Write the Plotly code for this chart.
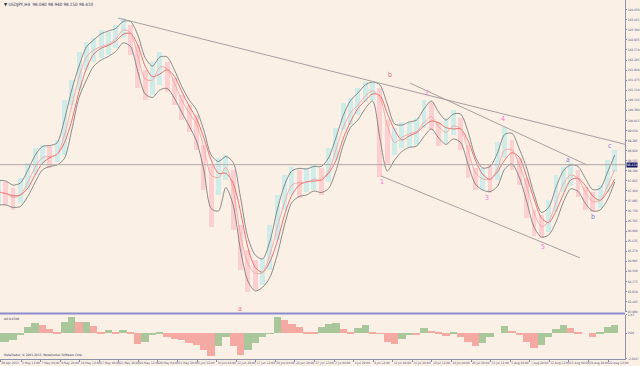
import plotly.graph_objects as go
import pandas as pd

# ---- data: USDJPY, one entry per trading day, 29 Apr 2013 .. 23 Aug 2013 ----
HIGH = [97.85, 97.78, 97.56, 97.93, 98.47, 99.02, 99.12, 99.09, 99.31, 100.76,
        101.48, 102.50, 102.86, 103.01, 103.30, 103.22, 103.48, 103.73, 103.48, 102.75,
        101.84, 102.13, 102.50, 102.13, 101.55, 100.94, 100.58, 100.21, 99.12, 98.40,
        98.65, 98.76, 98.22, 96.22, 95.32, 94.95, 95.03, 96.22, 97.31, 98.04,
        98.33, 98.22, 98.29, 98.40, 98.29, 99.02, 99.74, 100.65, 100.83, 101.19,
        101.41, 101.41, 101.19, 100.03, 99.74, 99.96, 99.96, 100.10, 100.76, 100.68,
        99.96, 100.10, 100.39, 100.10, 99.12, 98.29, 98.29, 98.40, 99.23, 99.78,
        99.31, 98.65, 97.93, 96.77, 96.59, 97.13, 98.04, 98.33, 98.47, 98.22,
        97.60, 97.42, 97.67, 98.58, 98.94]
LOW = [96.95, 96.95, 96.77, 97.02, 97.49, 98.04, 98.40, 98.29, 98.51, 98.76,
       100.58, 101.12, 101.84, 102.13, 102.28, 102.39, 102.64, 103.01, 102.39, 101.19,
       100.76, 100.94, 101.30, 101.05, 100.58, 100.03, 99.60, 98.94, 97.49, 96.15,
       97.31, 97.85, 96.04, 94.59, 93.79, 93.87, 94.05, 94.59, 95.68, 96.77,
       97.31, 97.20, 97.42, 97.49, 97.31, 97.78, 98.58, 99.67, 99.85, 100.21,
       100.68, 100.76, 97.96, 98.40, 98.76, 99.02, 99.05, 99.12, 99.74, 99.67,
       99.09, 99.20, 99.49, 98.94, 97.93, 97.49, 97.49, 97.38, 97.85, 98.65,
       98.22, 97.67, 96.48, 95.82, 95.75, 95.97, 96.69, 97.42, 97.64, 97.24,
       96.77, 96.69, 96.84, 97.42, 98.15]
CLOSE = [97.42, 97.31, 97.13, 97.49, 98.04, 98.58, 98.76, 98.65, 98.94, 100.03,
         101.05, 102.13, 102.50, 102.64, 102.75, 102.82, 103.11, 103.48, 102.93, 101.84,
         101.19, 101.77, 102.13, 101.66, 101.05, 100.47, 100.10, 99.67, 98.40, 97.67,
         98.22, 98.40, 96.59, 95.13, 94.52, 94.41, 94.59, 95.68, 96.59, 97.49,
         97.85, 97.67, 97.85, 97.93, 97.78, 98.58, 99.31, 100.21, 100.39, 100.76,
         101.05, 101.12, 100.58, 99.12, 99.31, 99.49, 99.56, 99.67, 100.21, 100.10,
         99.49, 99.67, 99.96, 99.49, 98.40, 97.85, 97.93, 97.85, 98.65, 99.23,
         98.65, 98.15, 97.13, 96.22, 96.11, 96.59, 97.49, 97.93, 98.15, 97.67,
         97.13, 97.02, 97.20, 98.04, 98.41]
AO = [-0.70, -0.70, -0.52, -0.13, 0.47, 0.78, 0.65, 0.31, 0.03, 0.91,
      1.30, 0.91, 0.91, 0.57, 0.13, 0.26, 0.05, 0.26, 0.03, -0.85,
      -0.65, -0.15, 0.05, -0.31, -0.47, -0.52, -0.73, -0.91, -1.30, -1.79,
      -1.00, -0.26, -1.00, -1.69, -1.30, -0.78, -0.31, -0.03, 1.25, 1.04,
      0.73, 0.47, 0.13, 0.03, 0.52, 0.70, 0.83, 0.31, 0.08, 0.39,
      0.62, 0.13, -0.05, -0.65, -0.86, -0.47, -0.13, -0.16, 0.39, 0.21,
      0.02, -0.21, 0.05, -0.31, -0.65, -0.99, -0.73, -0.31, 0.00, 0.57,
      0.21, -0.13, -0.65, -1.17, -0.91, -0.31, 0.31, 0.65, 0.39, 0.05,
      0.00, -0.26, 0.13, 0.52, 0.65]

# time axis tick labels (H4 bar index of each label)
DATE_LABELS = ["29 Apr 2013", "2 May 12:00", "7 May 04:00", "9 May 20:00", "14 May 12:00",
               "17 May 04:00", "21 May 20:00", "24 May 12:00", "29 May 04:00", "31 May 20:00",
               "5 Jun 12:00", "10 Jun 04:00", "12 Jun 20:00", "17 Jun 12:00", "20 Jun 04:00",
               "24 Jun 20:00", "27 Jun 12:00", "2 Jul 04:00", "4 Jul 20:00", "9 Jul 12:00",
               "12 Jul 04:00", "16 Jul 20:00", "19 Jul 12:00", "24 Jul 04:00", "26 Jul 20:00",
               "31 Jul 12:00", "5 Aug 04:00", "7 Aug 20:00", "12 Aug 12:00", "15 Aug 04:00",
               "19 Aug 20:00", "22 Aug 12:00"]
DATE_BARS = [4] + [21 + 16 * k for k in range(31)]

# trend lines drawn on the chart: (bar0, price0, bar1, price1)
TRENDLINES = [(100.3, 103.73, 514.9, 99.15),
              (339.1, 101.37, 483.8, 98.40),
              (315.4, 98.00, 478.1, 95.03)]
# wave labels
WAVE_TEXT = ["a", "b", "1", "2", "3", "4", "5", "a", "b", "c"]
WAVE_BAR = [200.1, 322.7, 316.2, 353.0, 402.1, 415.1, 447.9, 468.3, 488.7, 502.6]
WAVE_PRICE = [93.18, 101.66, 97.78, 101.01, 97.20, 100.07, 95.43, 98.58, 96.51, 99.09]
WAVE_COLOR = ["#F07080", "#D06A6A", "#FF70D0", "#FF70D0", "#FF70D0", "#FF70D0", "#FF70D0",
              "#7A7AD0", "#7A7AD0", "#7A7AD0"]

BARS_PER_DAY = 6
X = [d * BARS_PER_DAY + 2.5 for d in range(len(CLOSE))]

FONT = "Liberation Sans Narrow, DejaVu Sans Condensed, sans-serif"
BG = "#FAF0E6"
AXC = "#555577"
TF = 3.2

# derived indicator lines (moving averages of the typed price data)
s_close = pd.Series(CLOSE)
s_high = pd.Series(HIGH)
s_low = pd.Series(LOW)
ma_fast = s_close.rolling(2, min_periods=1).mean()
ma_mid = s_close.rolling(3, min_periods=1).mean()
ch_up = s_high.rolling(2, min_periods=1).mean()
ch_dn = s_low.rolling(2, min_periods=1).mean()

bar_colors = ["#9FE9EE" if (i == 0 or CLOSE[i] >= CLOSE[i - 1]) else "#FFA9B8"
              for i in range(len(CLOSE))]
ao_colors = ["#A9C79B" if (i == 0 or AO[i] >= AO[i - 1]) else "#F4AAA2"
             for i in range(len(AO))]

fig = go.Figure()
fig.add_trace(go.Bar(x=X, y=[h - l for h, l in zip(HIGH, LOW)], base=LOW, width=4,
                     marker=dict(color=bar_colors, line=dict(width=0)), opacity=0.45,
                     xaxis="x", yaxis="y", showlegend=False, hoverinfo="skip"))
for ser, col, w in [(ch_up, "#707070", 0.8), (ch_dn, "#707070", 0.8),
                    (ma_mid, "#E85050", 0.8), (ma_fast, "#F59A9A", 0.8)]:
    fig.add_trace(go.Scatter(x=X, y=ser, mode="lines",
                             line=dict(color=col, width=w, shape="spline", smoothing=0.8),
                             xaxis="x", yaxis="y", showlegend=False, hoverinfo="skip"))
fig.add_trace(go.Bar(x=X, y=AO, width=6, marker=dict(color=ao_colors, line=dict(width=0)),
                     xaxis="x2", yaxis="y2", showlegend=False, hoverinfo="skip"))

shapes = []
for b0, p0, b1, p1 in TRENDLINES:
    shapes.append(dict(type="line", xref="x", yref="y", x0=b0, y0=p0, x1=b1, y1=p1,
                       line=dict(color="#A8A0A0", width=1)))
shapes.append(dict(type="line", xref="paper", yref="y", x0=0, x1=1, y0=CLOSE[-1], y1=CLOSE[-1],
                   line=dict(color="#B0A8A8", width=1)))
shapes.append(dict(type="line", xref="paper", yref="paper", x0=0, x1=1, y0=0.1267, y1=0.1267,
                   line=dict(color="#8C8CCC", width=2)))

annotations = []
for t, b, p, c in zip(WAVE_TEXT, WAVE_BAR, WAVE_PRICE, WAVE_COLOR):
    annotations.append(dict(x=b, y=p, xref="x", yref="y", text=t, showarrow=False,
                            font=dict(family=FONT, size=7, color=c)))
annotations.append(dict(x=1, y=CLOSE[-1], xref="paper", yref="y", xanchor="left", xshift=1,
                        text=f"{CLOSE[-1]:.3f}", showarrow=False, bgcolor="#141460",
                        borderpad=0, font=dict(family=FONT, size=TF, color="white")))
annotations.append(dict(x=0.003, y=1, xref="paper", yref="paper", xanchor="left", yanchor="top",
                        text=f"\u25bc USDJPY,H4  {CLOSE[-2]:.3f} {HIGH[-1]:.3f} {LOW[-1]:.3f} {CLOSE[-1]:.3f}",
                        showarrow=False, font=dict(family=FONT, size=4.5, color="#333355")))
annotations.append(dict(x=0.003, y=0.1226, xref="paper", yref="paper", xanchor="left", yanchor="top",
                        text=f"AO {AO[-1]:.4f}", showarrow=False,
                        font=dict(family=FONT, size=TF, color="#333355")))
annotations.append(dict(x=0.003, y=0.0, xref="paper", yref="paper", xanchor="left", yanchor="bottom",
                        text="MetaTrader, \u00a9 2001-2013, MetaQuotes Software Corp.", showarrow=False,
                        font=dict(family=FONT, size=TF, color="#333355")))

XR = [3.83, 514.9]
fig.update_layout(
    width=640, height=366, paper_bgcolor=BG, plot_bgcolor=BG,
    margin=dict(l=0, r=15, t=0, b=7), barmode="overlay", bargap=0,
    font=dict(family=FONT, size=TF, color=AXC),
    xaxis=dict(domain=[0, 1], range=XR, anchor="y", showticklabels=False, showgrid=False,
               zeroline=False, ticks="", automargin=False),
    xaxis2=dict(domain=[0, 1], range=XR, anchor="y2", matches="x", showgrid=False, zeroline=False,
                tickmode="array", tickvals=DATE_BARS, ticktext=DATE_LABELS, ticks="outside",
                ticklen=2, tickcolor="#8888AA", ticklabelposition="outside right", tickangle=0,
                tickfont=dict(family=FONT, size=TF, color=AXC), automargin=False,
                showline=True, linecolor="#9090A8", linewidth=1),
    yaxis=dict(domain=[0.1309, 1.0], range=[93.066, 104.383], side="right", anchor="x",
               tick0=93.08, dtick=0.365, tickformat=".3f", ticks="outside", ticklen=1,
               tickcolor="#8888AA", showgrid=False, zeroline=False, automargin=False,
               tickfont=dict(family=FONT, size=TF, color=AXC),
               showline=True, linecolor="#9090A8", linewidth=1),
    yaxis2=dict(domain=[0, 0.1226], range=[-2.0247, 1.43], side="right", anchor="x2",
                tickmode="array", tickvals=[1.43, 0, -2.0247], ticktext=["1.43", "0.00", "-2.0247"],
                ticks="outside", ticklen=1, tickcolor="#8888AA", showgrid=False, zeroline=False,
                tickfont=dict(family=FONT, size=TF, color=AXC), automargin=False,
                showline=True, linecolor="#9090A8", linewidth=1),
    shapes=shapes, annotations=annotations,
)
fig.write_html("out.html", config={"displayModeBar": False},
               post_script="document.body.style.margin='0';document.body.style.overflow='hidden';")
